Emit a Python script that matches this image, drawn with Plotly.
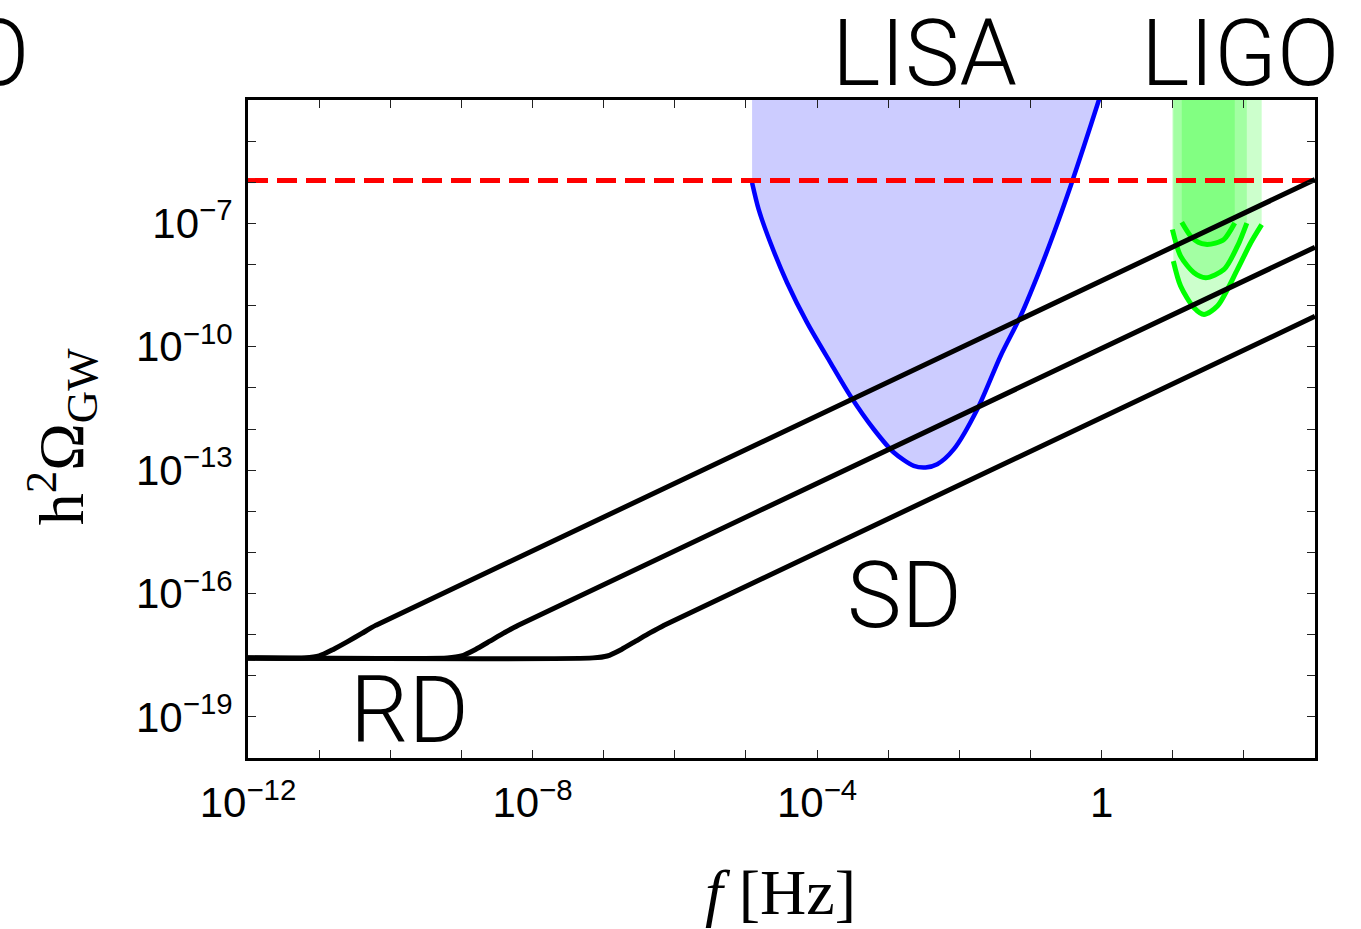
import plotly.graph_objects as go

# ---- axis limits -------------------------------------------------------
F_MIN, F_MAX = 1e-12, 1e3
OMEGA_MIN, OMEGA_MAX = 1e-20, 1e-4

# ---- GW spectra: RD plateau turning into the SD rise ------------------
sd1_f = [1e-12, 6.31e-12, 1.0e-11, 1.58e-11, 2.51e-11, 3.98e-11, 6.31e-11, 1e3]
sd1_omega = [2.69e-18, 2.72e-18, 3.02e-18, 4.37e-18, 6.76e-18, 1.07e-17, 1.70e-17, 1.17e-6]

sd2_f = [1e-12, 6.31e-10, 1.0e-9, 1.58e-9, 2.51e-9, 3.98e-9, 6.31e-9, 1e3]
sd2_omega = [2.69e-18, 2.72e-18, 3.02e-18, 4.37e-18, 6.92e-18, 1.10e-17, 1.70e-17, 2.63e-8]

sd3_f = [1e-12, 7.08e-8, 1.12e-7, 1.78e-7, 2.82e-7, 4.47e-7, 7.08e-7, 1e3]
sd3_omega = [2.69e-18, 2.72e-18, 3.02e-18, 4.37e-18, 6.92e-18, 1.10e-17, 1.70e-17, 5.50e-10]

# ---- bound (red dashed) ----------------------------------------------
bound_omega = 1.1e-6

# ---- LISA sensitivity --------------------------------------------------
lisa_f = [1.22e-5, 1.51e-5, 2.21e-5, 3.79e-5, 7.24e-5, 1.54e-4, 2.94e-4, 6.27e-4,
          1.20e-3, 2.29e-3, 3.35e-3, 4.89e-3, 8.38e-3, 1.79e-2, 3.80e-2, 7.26e-2,
          0.125, 0.214, 0.366, 0.564, 0.916, 1.07]
lisa_omega = [9.68e-7, 2.18e-7, 3.38e-8, 3.61e-9, 3.85e-10, 4.11e-11, 6.35e-12, 9.86e-13,
              2.68e-13, 1.27e-13, 1.16e-13, 1.39e-13, 3.23e-13, 3.02e-12, 5.96e-11, 5.57e-10,
              5.22e-9, 5.92e-8, 8.02e-7, 7.50e-6, 1.0e-4, 2.3e-4]

# ---- LIGO sensitivities ------------------------------------------------
ligo_a_f = [13.4, 17.9, 22.9, 29.1, 39.8, 52.6, 74.5]
ligo_a_omega = [1.07e-7, 4.90e-8, 3.47e-8, 3.09e-8, 3.31e-8, 4.07e-8, 1.02e-7]

ligo_b_f = [9.89, 12.9, 19.9, 29.1, 52.6, 81.3, 110]
ligo_b_omega = [7.11e-8, 1.60e-8, 6.31e-9, 4.78e-9, 7.59e-9, 2.79e-8, 1.02e-7]

ligo_c_f = [10.2, 12.9, 19.9, 27.5, 42.5, 81.3, 125, 178]
ligo_c_omega = [1.21e-8, 2.99e-9, 8.91e-10, 6.12e-10, 9.75e-10, 7.59e-9, 3.38e-8, 9.33e-8]

# ---- tick labels --------------------------------------------------------
x_tick_vals = [10.0 ** k for k in range(-12, 4)]
x_tick_text = {-12: "10<sup>−12</sup>", -8: "10<sup>−8</sup>", -4: "10<sup>−4</sup>", 0: "1"}
y_tick_vals = [10.0 ** k for k in range(-20, -3)]
y_tick_text = {-19: "10<sup>−19</sup>", -16: "10<sup>−16</sup>", -13: "10<sup>−13</sup>",
               -10: "10<sup>−10</sup>", -7: "10<sup>−7</sup>"}

fig = go.Figure()


def sensitivity_region(f, omega, fill, line_color, width):
    """Shaded region above a sensitivity curve, plus the curve itself."""
    fig.add_trace(go.Scatter(
        x=f + [f[-1], f[0]], y=omega + [OMEGA_MAX * 10, OMEGA_MAX * 10],
        mode="lines", fill="toself", fillcolor=fill, line=dict(width=0),
        hoverinfo="skip", showlegend=False))
    return go.Scatter(x=f, y=omega, mode="lines",
                      line=dict(color=line_color, width=width, shape="spline", smoothing=0.8),
                      showlegend=False)


curves = [
    sensitivity_region(lisa_f, lisa_omega, "rgba(0,0,255,0.2)", "#0000ff", 4.5),
    sensitivity_region(ligo_c_f, ligo_c_omega, "rgba(0,255,0,0.2)", "#00ff00", 5),
    sensitivity_region(ligo_b_f, ligo_b_omega, "rgba(0,255,0,0.2)", "#00ff00", 5),
    sensitivity_region(ligo_a_f, ligo_a_omega, "rgba(0,255,0,0.2)", "#00ff00", 5),
]
for c in curves:
    fig.add_trace(c)

fig.add_trace(go.Scatter(x=[F_MIN, F_MAX], y=[bound_omega, bound_omega], mode="lines",
                         line=dict(color="#ff0000", width=5, dash="20px,9px"),
                         showlegend=False))

for f, om in [(sd1_f, sd1_omega), (sd2_f, sd2_omega), (sd3_f, sd3_omega)]:
    fig.add_trace(go.Scatter(x=f, y=om, mode="lines",
                             line=dict(color="#000000", width=5, shape="spline", smoothing=0.6),
                             showlegend=False))

axis_common = dict(
    type="log", showgrid=False, zeroline=False,
    showline=True, linecolor="#000000", linewidth=3, mirror="allticks",
    ticks="inside", ticklen=8, tickwidth=1.3, tickcolor="#222222",
    tickfont=dict(family="Liberation Sans, Arial, sans-serif", size=42, color="#000000"),
)

fig.update_xaxes(
    range=[-12, 3],
    tickmode="array", tickvals=x_tick_vals,
    ticktext=[x_tick_text.get(k, "") for k in range(-12, 4)],
    ticklabelstandoff=6,
    **axis_common)
fig.update_yaxes(
    range=[-20, -4],
    tickmode="array", tickvals=y_tick_vals,
    ticktext=[y_tick_text.get(k, "") for k in range(-20, -3)],
    ticklabelstandoff=4,
    **axis_common)

label_font = dict(family="Roboto, Liberation Sans, sans-serif", size=92,
                  color="#000000", weight=300)
serif_font = dict(family="Liberation Serif, Times New Roman, serif", size=64, color="#000000")

annotations = [
    dict(text="LISA", x=0.6336, y=1.07, font=label_font),
    dict(text="LIGO", x=0.9297, y=1.07, font=label_font),
    dict(text="O", x=-0.203, y=1.07, xanchor="right", font=label_font),
    dict(text="SD", x=0.6157, y=0.2477, font=label_font),
    dict(text="RD", x=0.1518, y=0.0729, font=label_font),
    dict(text="h<sup>2</sup>Ω<sub>GW</sub>", x=-0.175, y=0.488, textangle=-90, font=serif_font),
    dict(text="<i>f</i> [Hz]", x=0.4986, y=-0.205, font=serif_font),
]
for a in annotations:
    a.setdefault("xanchor", "center")
    fig.add_annotation(xref="paper", yref="paper", showarrow=False, yanchor="middle", **a)

fig.update_layout(
    width=1361, height=929, autosize=False,
    margin=dict(l=248, r=46, t=100, b=171, pad=0),
    paper_bgcolor="#ffffff", plot_bgcolor="#ffffff",
    showlegend=False,
)

fig.write_html("out.html")
